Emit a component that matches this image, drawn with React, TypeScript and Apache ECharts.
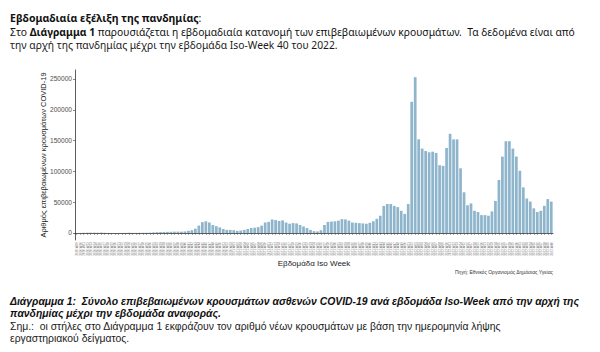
import React, { useEffect, useRef } from "react";
import * as echarts from "echarts";

// ISO week ranges shown on the x axis: [year, first week, last week]
const weekRanges: [number, number, number][] = [
  [2020, 9, 53],
  [2021, 1, 52],
  [2022, 1, 40],
];
const weekLabels: string[] = [];
weekRanges.forEach(([y, a, b]) => {
  for (let w = a; w <= b; w++) weekLabels.push(`${y}-W${String(w).padStart(2, "0")}`);
});

// Weekly confirmed COVID-19 cases
const cases: number[] = [
  // 2020 W09–W53
  10, 80, 300, 500, 600, 600, 400, 700, 300, 150,
  100, 80, 100, 150, 200, 200, 200, 250, 300, 300,
  350, 500, 900, 1300, 1500, 1700, 1800, 1900, 2200, 2200,
  2100, 2500, 3500, 4500, 7000, 12000, 17500, 19000, 17000, 13000,
  11000, 9000, 6500, 5000, 5000,
  // 2021 W01–W52
  4500, 3500, 4000, 5000, 6500, 8000, 8500, 9500, 12000, 17000,
  18000, 22000, 21000, 19500, 20500, 17000, 15000, 16000, 15500, 13000,
  10500, 8000, 5000, 3000, 2500, 4500, 13000, 18000, 18500, 19000,
  20000, 22500, 22000, 20000, 17000, 16500, 16000, 15500, 15000, 16500,
  19000, 23000, 28000, 44000, 47000, 47000, 44000, 42000, 36000, 31000,
  47000, 213000,
  // 2022 W01–W40
  253000, 152000, 137000, 133000, 131000, 132000, 130000, 110000, 109000, 138000,
  161000, 152000, 152000, 105000, 66000, 45000, 48000, 36000, 34000, 29000,
  29000, 28000, 35000, 52000, 86000, 124000, 149000, 149000, 137000, 124000,
  101000, 74000, 56000, 51000, 40000, 34000, 36000, 44000, 55000, 51000,
];

const yTicks: number[] = [0, 50000, 100000, 150000, 200000, 250000];

const introTitle = "Εβδομαδιαία εξέλιξη της πανδημίας";
const introLine1a = "Στο ";
const introLine1b = "Διάγραμμα 1";
const introLine1c =
  " παρουσιάζεται η εβδομαδιαία κατανομή των επιβεβαιωμένων κρουσμάτων.  Τα δεδομένα είναι από";
const introLine2 = "την αρχή της πανδημίας μέχρι την εβδομάδα Iso-Week 40 του 2022.";
const caption1 =
  "Διάγραμμα 1:  Σύνολο επιβεβαιωμένων κρουσμάτων ασθενών COVID-19 ανά εβδομάδα Iso-Week από την αρχή της";
const caption2 = "πανδημίας μέχρι την εβδομάδα αναφοράς.";
const note1 =
  "Σημ.:  οι στήλες στο Διάγραμμα 1 εκφράζουν τον αριθμό νέων κρουσμάτων με βάση την ημερομηνία λήψης";
const note2 = "εργαστηριακού δείγματος.";
const sourceText = "Πηγή: Εθνικός Οργανισμός Δημόσιας Υγείας";

const DOC_FONT = '"Noto Sans", "Open Sans", sans-serif';
const NOTE_FONT = '"Liberation Sans", Arial, sans-serif';
const PLOT_FONT = '"Liberation Sans", Arial, sans-serif';

export default function App() {
  const ref = useRef<HTMLDivElement>(null);
  useEffect(() => {
    const chart = echarts.init(ref.current!, null, { renderer: "svg" });
    const docText = (x: number, y: number, text: string, extra: any = {}) => ({
      type: "text",
      x,
      y,
      style: {
        text,
        textVerticalAlign: "middle",
        fontSize: 10.3,
        lineHeight: 11,
        fontFamily: DOC_FONT,
        fill: "#1a1a1a",
        ...extra,
      },
    });
    chart.setOption({
      animation: false,
      backgroundColor: "#ffffff",
      grid: { left: 75, right: 47, top: 70, bottom: 112, containLabel: false },
      xAxis: {
        type: "category",
        data: weekLabels,
        boundaryGap: true,
        axisLine: { lineStyle: { color: "#333", width: 0.8 } },
        axisTick: { show: true, alignWithLabel: true, length: 2, lineStyle: { color: "#555", width: 0.5 } },
        axisLabel: {
          interval: 0,
          rotate: 90,
          fontSize: 3,
          color: "#777",
          margin: 2,
          fontFamily: PLOT_FONT,
        },
        name: "Εβδομάδα Iso Week",
        nameLocation: "middle",
        nameGap: 19,
        nameMoveOverlap: false,
        nameTextStyle: { fontSize: 8, color: "#222", fontFamily: PLOT_FONT },
      },
      yAxis: {
        type: "value",
        min: -11400,
        max: 264600,
        axisLine: { show: true, lineStyle: { color: "#333", width: 0.8 } },
        axisTick: { show: true, length: 2, customValues: yTicks, lineStyle: { color: "#333", width: 0.6 } },
        axisLabel: {
          customValues: yTicks,
          formatter: (v: number) => String(v),
          fontSize: 6.6,
          color: "#4d4d4d",
          margin: 3,
          fontFamily: PLOT_FONT,
        },
        splitLine: { show: false },
        name: "Αριθμός επιβεβαιωμένων κρουσμάτων COVID-19",
        nameLocation: "middle",
        nameRotate: 90,
        nameGap: 28,
        nameMoveOverlap: false,
        nameTextStyle: { fontSize: 7.5, color: "#222", fontFamily: PLOT_FONT },
      },
      series: [
        {
          type: "bar",
          data: cases,
          barCategoryGap: "22%",
          itemStyle: { color: "#8fb5cc" },
        },
      ],
      graphic: [
        {
          type: "text",
          x: 10,
          y: 18,
          style: {
            text: `{b|${introTitle}}{n|:}`,
            textVerticalAlign: "middle",
            rich: {
              b: { fontSize: 10.5, fontWeight: "bold", fontFamily: DOC_FONT, fill: "#111", lineHeight: 11 },
              n: { fontSize: 10.5, fontFamily: DOC_FONT, fill: "#111", lineHeight: 11 },
            },
          },
        },
        {
          type: "text",
          x: 10,
          y: 32,
          style: {
            text: `{n|${introLine1a}}{b|${introLine1b}}{n|${introLine1c}}`,
            textVerticalAlign: "middle",
            rich: {
              b: { fontSize: 10.3, fontWeight: "bold", fontFamily: DOC_FONT, fill: "#111", lineHeight: 11 },
              n: { fontSize: 10.3, fontFamily: DOC_FONT, fill: "#111", lineHeight: 11 },
            },
          },
        },
        docText(10, 45, introLine2),
        {
          type: "text",
          x: 553,
          y: 272,
          style: {
            text: sourceText,
            textAlign: "right",
            textVerticalAlign: "middle",
            fontSize: 5,
            fontFamily: PLOT_FONT,
            fill: "#333",
          },
        },
        docText(10, 301, caption1, { fontWeight: "bold", fontStyle: "italic", fill: "#111", fontFamily: NOTE_FONT, fontSize: 10.4 }),
        docText(10, 313, caption2, { fontWeight: "bold", fontStyle: "italic", fill: "#111", fontFamily: NOTE_FONT, fontSize: 10.4 }),
        docText(10, 326, note1, { fontFamily: NOTE_FONT, fontSize: 10.4 }),
        docText(10, 338, note2, { fontFamily: NOTE_FONT, fontSize: 10.4 }),
      ],
    });
    return () => chart.dispose();
  }, []);
  return (
    <div
      ref={ref}
      style={{ position: "absolute", left: 0, top: 0, width: 600, height: 352, background: "#fff" }}
    />
  );
}
